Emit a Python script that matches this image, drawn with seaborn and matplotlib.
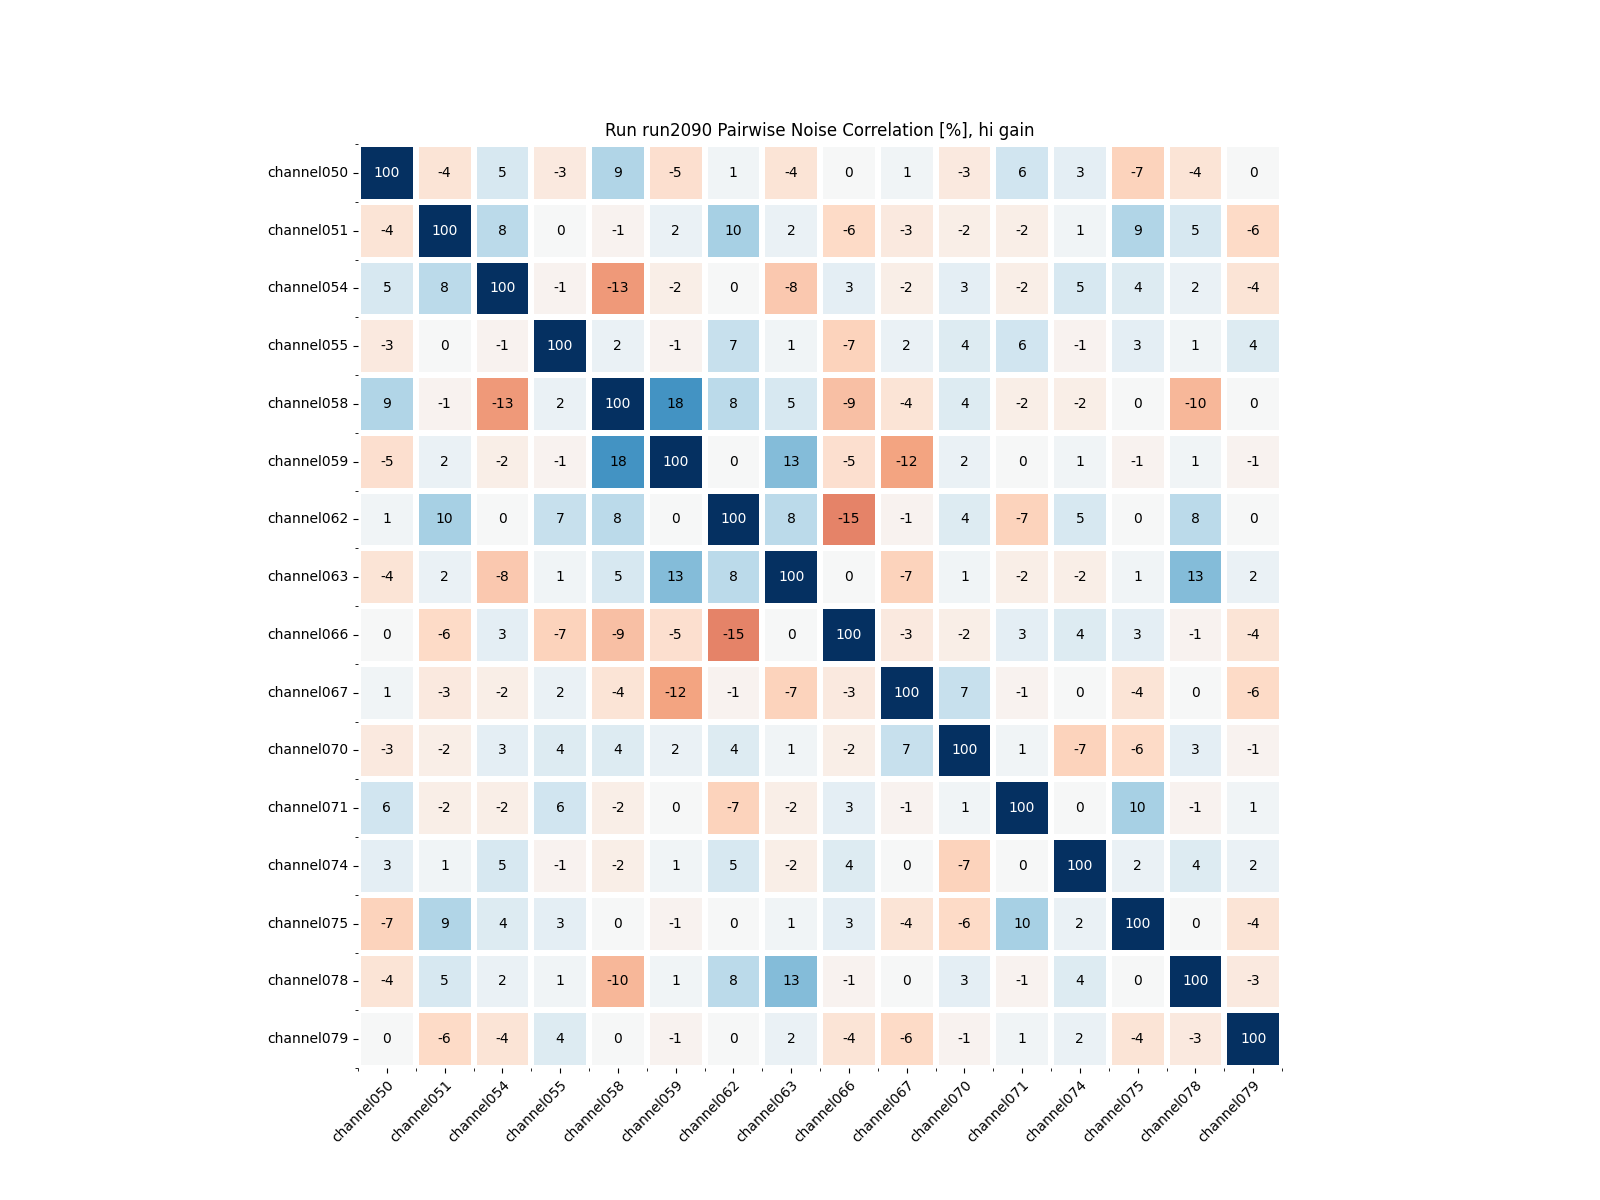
import numpy as np
import pandas as pd
import matplotlib
matplotlib.use("Agg")
import matplotlib.pyplot as plt
import seaborn as sns

channels = [
    "channel050", "channel051", "channel054", "channel055",
    "channel058", "channel059", "channel062", "channel063",
    "channel066", "channel067", "channel070", "channel071",
    "channel074", "channel075", "channel078", "channel079",
]

# pairwise noise correlation in percent, row by row
row050 = [100, -4, 5, -3, 9, -5, 1, -4, 0, 1, -3, 6, 3, -7, -4, 0]
row051 = [-4, 100, 8, 0, -1, 2, 10, 2, -6, -3, -2, -2, 1, 9, 5, -6]
row054 = [5, 8, 100, -1, -13, -2, 0, -8, 3, -2, 3, -2, 5, 4, 2, -4]
row055 = [-3, 0, -1, 100, 2, -1, 7, 1, -7, 2, 4, 6, -1, 3, 1, 4]
row058 = [9, -1, -13, 2, 100, 18, 8, 5, -9, -4, 4, -2, -2, 0, -10, 0]
row059 = [-5, 2, -2, -1, 18, 100, 0, 13, -5, -12, 2, 0, 1, -1, 1, -1]
row062 = [1, 10, 0, 7, 8, 0, 100, 8, -15, -1, 4, -7, 5, 0, 8, 0]
row063 = [-4, 2, -8, 1, 5, 13, 8, 100, 0, -7, 1, -2, -2, 1, 13, 2]
row066 = [0, -6, 3, -7, -9, -5, -15, 0, 100, -3, -2, 3, 4, 3, -1, -4]
row067 = [1, -3, -2, 2, -4, -12, -1, -7, -3, 100, 7, -1, 0, -4, 0, -6]
row070 = [-3, -2, 3, 4, 4, 2, 4, 1, -2, 7, 100, 1, -7, -6, 3, -1]
row071 = [6, -2, -2, 6, -2, 0, -7, -2, 3, -1, 1, 100, 0, 10, -1, 1]
row074 = [3, 1, 5, -1, -2, 1, 5, -2, 4, 0, -7, 0, 100, 2, 4, 2]
row075 = [-7, 9, 4, 3, 0, -1, 0, 1, 3, -4, -6, 10, 2, 100, 0, -4]
row078 = [-4, 5, 2, 1, -10, 1, 8, 13, -1, 0, 3, -1, 4, 0, 100, -3]
row079 = [0, -6, -4, 4, 0, -1, 0, 2, -4, -6, -1, 1, 2, -4, -3, 100]

rows = [row050, row051, row054, row055, row058, row059, row062, row063,
        row066, row067, row070, row071, row074, row075, row078, row079]

corr = pd.DataFrame(rows, index=channels, columns=channels)

fig, ax = plt.subplots(figsize=(16, 12), dpi=100)
sns.heatmap(
    corr,
    ax=ax,
    cmap="RdBu",
    vmin=-30,
    vmax=30,
    annot=True,
    fmt="d",
    square=True,
    cbar=False,
    linewidths=3,
    linecolor="white",
)

# only the saturated diagonal gets white text
for txt in ax.texts:
    txt.set_color("white" if int(txt.get_text()) >= 50 else "black")

ax.set_title("Run run2090 Pairwise Noise Correlation [%], hi gain")
ax.set_xticklabels(ax.get_xticklabels(), rotation=45, ha="right",
                   rotation_mode="anchor")
ax.set_yticklabels(ax.get_yticklabels(), rotation=0)
# small ticks on the cell edges
ax.set_xticks(np.arange(len(channels) + 1), minor=True)
ax.set_yticks(np.arange(len(channels) + 1), minor=True)

plt.savefig("out.png")
plt.close()
